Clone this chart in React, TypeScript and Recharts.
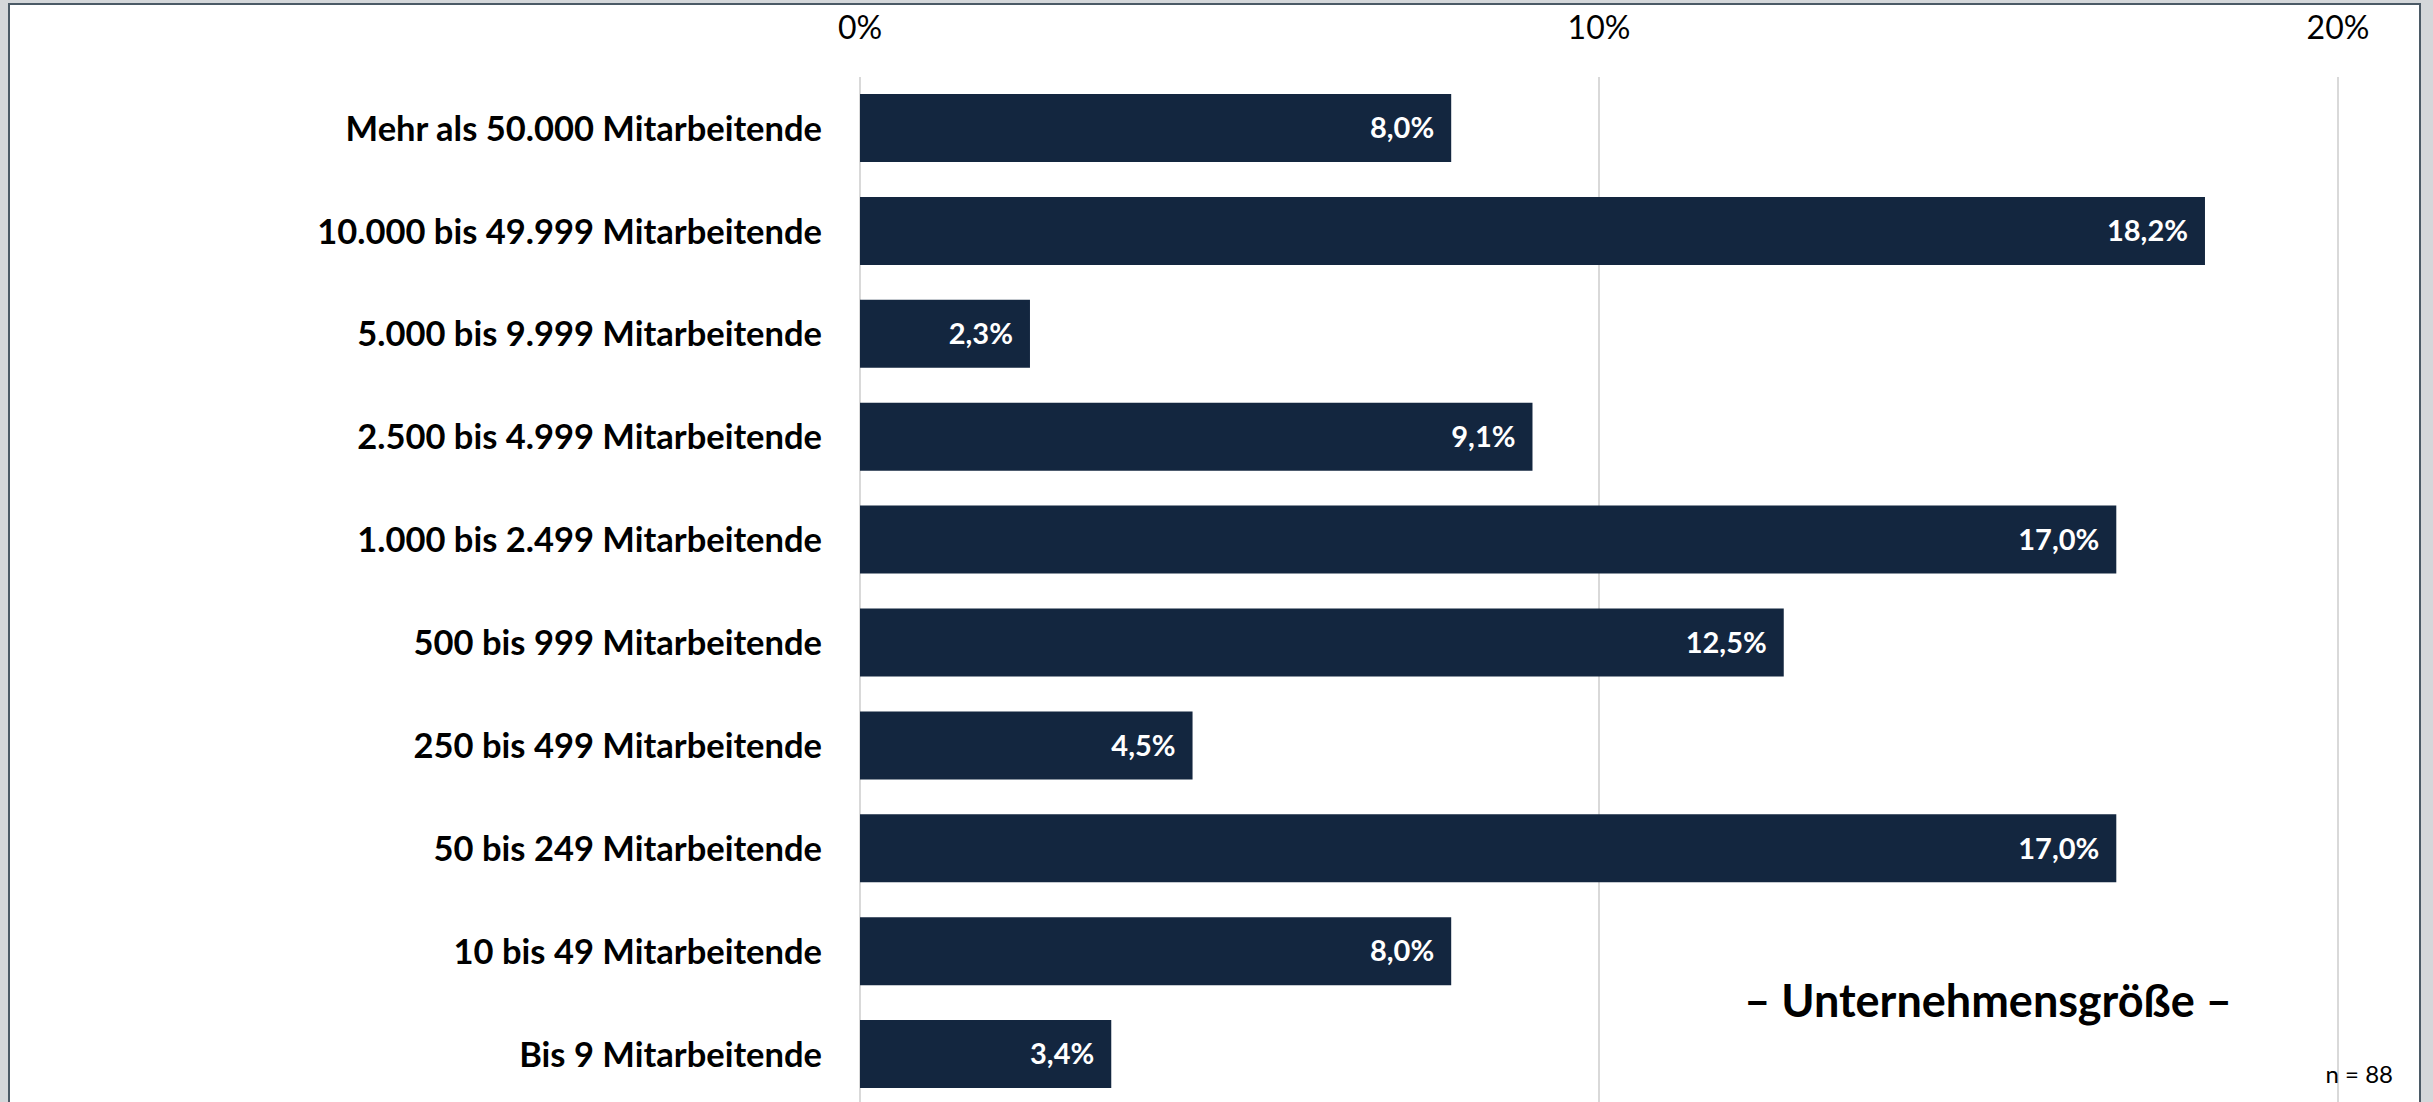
import { Bar, BarChart, CartesianGrid, LabelList, XAxis, YAxis } from "recharts";

const categories = [
  "Mehr als 50.000 Mitarbeitende",
  "10.000 bis 49.999 Mitarbeitende",
  "5.000 bis 9.999 Mitarbeitende",
  "2.500 bis 4.999 Mitarbeitende",
  "1.000 bis 2.499 Mitarbeitende",
  "500 bis 999 Mitarbeitende",
  "250 bis 499 Mitarbeitende",
  "50 bis 249 Mitarbeitende",
  "10 bis 49 Mitarbeitende",
  "Bis 9 Mitarbeitende",
];
const shares = [8.0, 18.2, 2.3, 9.1, 17.0, 12.5, 4.5, 17.0, 8.0, 3.4];
const xTicks = [0, 10, 20];

const FONT = "Lato, 'Open Sans', sans-serif";
const BAR = "#13263F";

const pct = (v: number) => `${v.toFixed(1).replace(".", ",")}%`;

export default function App() {
  const data = categories.map((name, i) => ({ name, value: shares[i] }));
  return (
    <div
      style={{
        position: "absolute",
        left: 0,
        top: 0,
        width: 2433,
        height: 1102,
        overflow: "hidden",
        background: "#d4d7da",
        fontFamily: FONT,
      }}
    >
      {/* window-like frame */}
      <div
        style={{
          position: "absolute",
          left: 8,
          top: 3,
          width: 2413,
          height: 1120,
          background: "#fff",
          borderLeft: "2px solid #4b5a66",
          borderTop: "2px solid #4b5a66",
          borderRight: "2px solid #4b5a66",
          boxSizing: "border-box",
        }}
      />
      <div style={{ position: "absolute", left: 0, top: 0 }}>
        <BarChart
          width={2433}
          height={1106}
          data={data}
          layout="vertical"
          margin={{ top: 0, right: 95, bottom: 0, left: 0 }}
        >
          <CartesianGrid
            horizontal={false}
            stroke="#d9d9d9"
            strokeWidth={2}
          />
          <XAxis
            type="number"
            orientation="top"
            domain={[0, 20]}
            ticks={xTicks}
            tickFormatter={(v: number) => `${v}%`}
            axisLine={false}
            tickLine={false}
            tickSize={0}
            tickMargin={38}
            height={77}
            tick={{ fill: "#000", fontSize: 32, fontFamily: FONT }}
          />
          <YAxis
            type="category"
            dataKey="name"
            width={860}
            axisLine={false}
            tickLine={false}
            tickSize={0}
            tickMargin={38}
            tick={{ fill: "#000", fontSize: 34.5, fontWeight: 700, fontFamily: FONT }}
          />
          <Bar dataKey="value" fill={BAR} barSize={68} isAnimationActive={false}>
            <LabelList
              dataKey="value"
              position="insideRight"
              offset={17}
              formatter={(v: number) => pct(v)}
              fill="#fff"
              fontSize={29}
              fontWeight={700}
              fontFamily={FONT}
            />
          </Bar>
        </BarChart>
      </div>
      <div
        style={{
          position: "absolute",
          left: 1638,
          width: 700,
          top: 970,
          textAlign: "center",
          fontSize: 45,
          fontWeight: 700,
          color: "#000",
          lineHeight: "60px",
        }}
      >
        – Unternehmensgröße –
      </div>
      <div
        style={{
          position: "absolute",
          right: 40,
          top: 1057,
          fontSize: 24,
          color: "#000",
          lineHeight: "34px",
        }}
      >
        n = 88
      </div>
    </div>
  );
}
